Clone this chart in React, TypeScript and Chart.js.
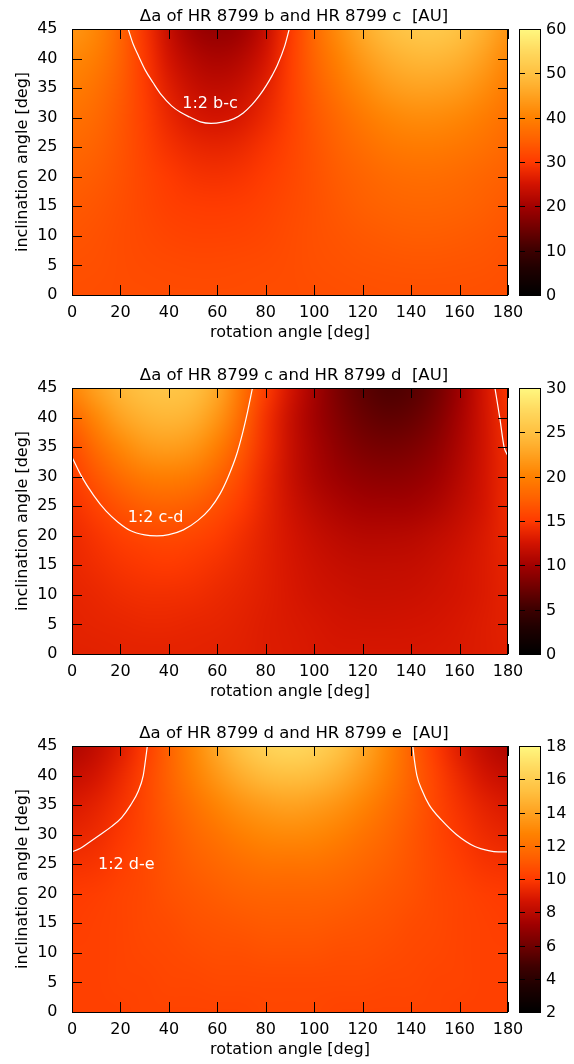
import React, { useEffect, useRef } from "react";
import { Chart, registerables } from "chart.js";

Chart.register(...registerables);

// Grid of the simulated maps: rotation angle (columns) x inclination angle (rows)
const rotationAngles = [0, 10, 20, 30, 40, 50, 60, 70, 80, 90, 100, 110, 120, 130, 140, 150, 160, 170, 180];
const inclinationAngles = [0, 5, 10, 15, 20, 25, 30, 35, 40, 45];

const rotationTicks = [0, 20, 40, 60, 80, 100, 120, 140, 160, 180];
const inclinationTicks = [0, 5, 10, 15, 20, 25, 30, 35, 40, 45];

// Δa between HR 8799 b and c [AU]; one row per inclination angle (0..45)
const deltaBC = [
  [32.6, 32.5, 32.4, 32.3, 32.2, 32.2, 32.2, 32.2, 32.3, 32.4, 32.5, 32.6, 32.7, 32.8, 32.8, 32.8, 32.8, 32.7, 32.6],
  [32.9, 32.7, 32.4, 32.1, 31.9, 31.8, 31.8, 31.9, 32.1, 32.4, 32.7, 33.0, 33.2, 33.4, 33.5, 33.5, 33.4, 33.2, 32.9],
  [33.4, 33.0, 32.4, 31.8, 31.3, 31.0, 31.0, 31.2, 31.6, 32.2, 32.8, 33.4, 33.9, 34.3, 34.5, 34.5, 34.3, 33.9, 33.4],
  [34.0, 33.5, 32.6, 31.6, 30.7, 30.2, 30.1, 30.4, 31.0, 31.9, 32.9, 33.9, 34.8, 35.4, 35.7, 35.7, 35.4, 34.8, 34.0],
  [35.0, 34.3, 33.0, 31.4, 30.0, 29.1, 28.9, 29.3, 30.3, 31.6, 33.0, 34.4, 35.6, 36.5, 37.0, 37.0, 36.5, 35.8, 35.0],
  [36.2, 35.3, 33.4, 31.0, 28.9, 27.6, 27.2, 27.8, 29.3, 31.2, 33.3, 35.3, 37.0, 38.3, 38.9, 39.0, 38.4, 37.4, 36.2],
  [37.5, 36.3, 33.8, 30.6, 27.6, 25.7, 25.0, 25.8, 27.9, 30.7, 33.7, 36.4, 38.8, 40.6, 41.5, 41.6, 40.8, 39.3, 37.5],
  [39.2, 37.6, 34.4, 30.2, 26.4, 23.9, 23.0, 24.0, 26.7, 30.5, 34.6, 38.2, 41.3, 43.6, 44.8, 44.9, 43.9, 41.8, 39.2],
  [41.0, 39.2, 35.2, 29.8, 25.0, 22.0, 20.8, 21.9, 25.2, 30.2, 35.5, 40.0, 43.8, 46.6, 48.2, 48.4, 47.2, 44.5, 41.0],
  [43.0, 40.8, 35.8, 29.2, 23.6, 19.8, 18.5, 19.7, 23.6, 29.8, 36.4, 41.8, 46.2, 49.5, 51.3, 51.6, 50.2, 47.0, 43.0],
];

// Δa between HR 8799 c and d [AU]
const deltaCD = [
  [13.4, 13.4, 13.5, 13.5, 13.5, 13.5, 13.4, 13.3, 13.1, 13.0, 12.8, 12.7, 12.7, 12.7, 12.7, 12.8, 12.9, 13.1, 13.3],
  [13.5, 13.6, 13.7, 13.8, 13.8, 13.7, 13.6, 13.4, 13.1, 12.9, 12.7, 12.5, 12.4, 12.4, 12.5, 12.6, 12.8, 13.1, 13.4],
  [13.6, 13.8, 14.1, 14.3, 14.3, 14.2, 13.9, 13.6, 13.2, 12.8, 12.4, 12.2, 12.0, 12.0, 12.1, 12.3, 12.6, 13.0, 13.5],
  [13.8, 14.2, 14.6, 14.9, 15.0, 14.8, 14.4, 13.9, 13.3, 12.7, 12.2, 11.8, 11.6, 11.6, 11.7, 12.0, 12.5, 13.0, 13.6],
  [14.0, 14.6, 15.3, 15.8, 16.0, 15.7, 15.1, 14.3, 13.4, 12.6, 11.8, 11.3, 11.0, 11.0, 11.1, 11.5, 12.1, 12.9, 13.8],
  [14.5, 15.5, 16.6, 17.4, 17.6, 17.2, 16.3, 15.0, 13.6, 12.3, 11.2, 10.5, 10.1, 10.0, 10.1, 10.6, 11.5, 12.6, 14.0],
  [15.2, 16.8, 18.4, 19.5, 19.8, 19.3, 17.9, 15.9, 13.8, 12.0, 10.6, 9.7, 9.1, 8.9, 9.1, 9.8, 11.0, 12.5, 14.0],
  [16.2, 18.5, 20.5, 21.8, 22.2, 21.6, 19.8, 17.0, 14.2, 12.0, 10.3, 9.0, 8.1, 7.8, 8.1, 9.0, 10.6, 12.4, 14.2],
  [18.0, 20.5, 22.6, 23.8, 24.2, 23.6, 21.6, 18.2, 14.4, 12.0, 10.0, 8.4, 7.2, 6.7, 7.0, 8.2, 10.2, 12.4, 14.4],
  [20.5, 22.5, 24.2, 25.2, 25.5, 25.0, 23.0, 19.0, 15.2, 12.6, 10.2, 8.0, 6.6, 5.8, 6.2, 7.5, 9.8, 12.5, 14.8],
];

// Δa between HR 8799 d and e [AU]
const deltaDE = [
  [10.2, 10.2, 10.2, 10.3, 10.3, 10.3, 10.3, 10.3, 10.4, 10.4, 10.4, 10.3, 10.3, 10.3, 10.3, 10.3, 10.2, 10.2, 10.2],
  [10.2, 10.2, 10.3, 10.3, 10.4, 10.4, 10.5, 10.5, 10.5, 10.5, 10.5, 10.5, 10.5, 10.4, 10.4, 10.3, 10.3, 10.2, 10.2],
  [10.2, 10.2, 10.3, 10.4, 10.5, 10.6, 10.7, 10.7, 10.8, 10.8, 10.8, 10.7, 10.7, 10.6, 10.5, 10.4, 10.3, 10.2, 10.2],
  [10.1, 10.2, 10.3, 10.5, 10.6, 10.8, 10.9, 11.0, 11.1, 11.1, 11.1, 11.0, 10.9, 10.8, 10.6, 10.5, 10.3, 10.2, 10.1],
  [10.0, 10.1, 10.3, 10.5, 10.8, 11.0, 11.2, 11.4, 11.5, 11.5, 11.5, 11.4, 11.2, 11.0, 10.8, 10.5, 10.3, 10.1, 10.0],
  [9.7, 9.8, 10.1, 10.5, 10.9, 11.3, 11.6, 11.9, 12.1, 12.1, 12.1, 11.9, 11.6, 11.3, 10.9, 10.5, 10.1, 9.8, 9.7],
  [9.3, 9.5, 9.9, 10.4, 11.0, 11.6, 12.1, 12.6, 12.9, 13.0, 12.9, 12.6, 12.1, 11.6, 11.0, 10.4, 9.9, 9.5, 9.3],
  [8.9, 9.2, 9.7, 10.4, 11.2, 12.0, 12.8, 13.4, 13.8, 14.0, 13.8, 13.4, 12.8, 12.0, 11.2, 10.4, 9.7, 9.2, 8.9],
  [8.3, 8.7, 9.4, 10.3, 11.4, 12.6, 13.6, 14.5, 15.1, 15.3, 15.1, 14.5, 13.6, 12.6, 11.4, 10.3, 9.4, 8.7, 8.3],
  [7.7, 8.2, 9.0, 10.0, 11.4, 12.9, 14.3, 15.5, 16.3, 16.6, 16.3, 15.5, 14.3, 12.9, 11.4, 10.0, 9.0, 8.2, 7.7],
];

// 1:2 mean-motion resonance curves (rotation, inclination)
const resonanceBC = [
  { x: 23.2, y: 45 }, { x: 25.2, y: 42.5 }, { x: 27.5, y: 40.4 }, { x: 30.3, y: 38 }, { x: 33.5, y: 35.9 },
  { x: 37, y: 33.8 }, { x: 41.1, y: 32 }, { x: 44.8, y: 30.9 }, { x: 48.6, y: 30.1 }, { x: 53, y: 29.3 },
  { x: 57.4, y: 29.05 }, { x: 62, y: 29.25 }, { x: 66.7, y: 29.8 }, { x: 70.7, y: 30.8 }, { x: 74.3, y: 32.2 },
  { x: 77.5, y: 33.8 }, { x: 80.3, y: 35.5 }, { x: 82.7, y: 37.2 }, { x: 84.8, y: 38.9 }, { x: 87.8, y: 42.1 },
  { x: 89.7, y: 45 },
];
const resonanceCD = [
  { x: 0, y: 33.3 }, { x: 4, y: 30 }, { x: 9, y: 26.8 }, { x: 14, y: 24.2 }, { x: 19, y: 22.3 },
  { x: 24, y: 20.9 }, { x: 30, y: 20.15 }, { x: 35, y: 20 }, { x: 40, y: 20.2 }, { x: 46, y: 21 },
  { x: 52, y: 22.6 }, { x: 57, y: 24.6 }, { x: 61, y: 27 }, { x: 64.5, y: 30 }, { x: 68, y: 33.8 },
  { x: 70.5, y: 37.5 }, { x: 72.5, y: 41 }, { x: 74.5, y: 45 },
];
const resonanceCDWrap = [
  { x: 174.6, y: 45 }, { x: 176.6, y: 40 }, { x: 178.4, y: 35 }, { x: 180, y: 33.5 },
];
const resonanceDE = [
  { x: 0, y: 27.1 }, { x: 3.5, y: 27.7 }, { x: 6.7, y: 28.6 }, { x: 11.6, y: 30 }, { x: 16.4, y: 31.4 },
  { x: 20.5, y: 32.9 }, { x: 24.2, y: 35 }, { x: 27.4, y: 37.4 }, { x: 29.4, y: 40 }, { x: 30.3, y: 42.5 },
  { x: 31.1, y: 45 },
];
const resonanceDEWrap = [
  { x: 140.7, y: 45 }, { x: 141.4, y: 42.5 }, { x: 142.4, y: 40 }, { x: 144.5, y: 37.5 }, { x: 147.5, y: 35 },
  { x: 152.5, y: 32.5 }, { x: 158.8, y: 30 }, { x: 166.3, y: 28 }, { x: 172, y: 27.3 }, { x: 176, y: 27.1 },
  { x: 180, y: 27.1 },
];

const colorbarTicksBC = [0, 10, 20, 30, 40, 50, 60];
const colorbarTicksCD = [0, 5, 10, 15, 20, 25, 30];
const colorbarTicksDE = [2, 4, 6, 8, 10, 12, 14, 16, 18];

const FONT = "'DejaVu Sans', Verdana, sans-serif";

// black → dark red → red → orange → yellow
const paletteStops: number[][] = [
  [0.0, 0, 0, 0],
  [0.1, 32, 0, 0],
  [0.17, 62, 0, 0],
  [0.25, 112, 0, 0],
  [0.33, 160, 0, 0],
  [0.42, 212, 20, 0],
  [0.5, 255, 58, 0],
  [0.58, 255, 95, 0],
  [0.67, 255, 130, 0],
  [0.75, 255, 162, 32],
  [0.83, 255, 192, 64],
  [0.92, 255, 218, 96],
  [1.0, 255, 248, 128],
];

function paletteColor(f: number): number[] {
  const t = Math.max(0, Math.min(1, f));
  for (let i = 1; i < paletteStops.length; i++) {
    const a = paletteStops[i - 1];
    const b = paletteStops[i];
    if (t <= b[0]) {
      const u = (t - a[0]) / (b[0] - a[0]);
      return [a[1] + (b[1] - a[1]) * u, a[2] + (b[2] - a[2]) * u, a[3] + (b[3] - a[3]) * u];
    }
  }
  const l = paletteStops[paletteStops.length - 1];
  return [l[1], l[2], l[3]];
}

interface PanelSpec {
  title: string;
  values: number[][];
  cbMin: number;
  cbMax: number;
  cbTicks: number[];
  curves: { x: number; y: number }[][];
  label: string;
  labelAt: { x: number; y: number };
}

const PLOT_TOP = 29;
const PLOT_BOTTOM = 295;

const panels: { spec: PanelSpec; top: number; height: number }[] = [
  {
    top: 0,
    height: 359,
    spec: {
      title: "Δa of HR 8799 b and HR 8799 c  [AU]",
      values: deltaBC,
      cbMin: 0,
      cbMax: 60,
      cbTicks: colorbarTicksBC,
      curves: [resonanceBC],
      label: "1:2 b-c",
      labelAt: { x: 57, y: 32.3 },
    },
  },
  {
    top: 359,
    height: 358,
    spec: {
      title: "Δa of HR 8799 c and HR 8799 d  [AU]",
      values: deltaCD,
      cbMin: 0,
      cbMax: 30,
      cbTicks: colorbarTicksCD,
      curves: [resonanceCD, resonanceCDWrap],
      label: "1:2 c-d",
      labelAt: { x: 34.5, y: 23 },
    },
  },
  {
    top: 717,
    height: 347,
    spec: {
      title: "Δa of HR 8799 d and HR 8799 e  [AU]",
      values: deltaDE,
      cbMin: 2,
      cbMax: 18,
      cbTicks: colorbarTicksDE,
      curves: [resonanceDE, resonanceDEWrap],
      label: "1:2 d-e",
      labelAt: { x: 22.4, y: 24.9 },
    },
  },
];

function buildConfig(spec: PanelSpec, height: number): any {
  const heatmap = {
    id: "heatmap",
    beforeDatasetsDraw(chart: any) {
      const { ctx, chartArea, scales } = chart;
      const nx = rotationAngles.length;
      const ny = inclinationAngles.length;
      const off = document.createElement("canvas");
      off.width = nx;
      off.height = ny;
      const octx = off.getContext("2d")!;
      const img = octx.createImageData(nx, ny);
      for (let r = 0; r < ny; r++) {
        const row = spec.values[ny - 1 - r];
        for (let c = 0; c < nx; c++) {
          const col = paletteColor((row[c] - spec.cbMin) / (spec.cbMax - spec.cbMin));
          const k = (r * nx + c) * 4;
          img.data[k] = Math.round(col[0]);
          img.data[k + 1] = Math.round(col[1]);
          img.data[k + 2] = Math.round(col[2]);
          img.data[k + 3] = 255;
        }
      }
      octx.putImageData(img, 0, 0);
      const dx = rotationAngles[1] - rotationAngles[0];
      const dy = inclinationAngles[1] - inclinationAngles[0];
      const x0 = scales.x.getPixelForValue(rotationAngles[0] - dx / 2);
      const x1 = scales.x.getPixelForValue(rotationAngles[nx - 1] + dx / 2);
      const y0 = scales.y.getPixelForValue(inclinationAngles[ny - 1] + dy / 2);
      const y1 = scales.y.getPixelForValue(inclinationAngles[0] - dy / 2);
      ctx.save();
      ctx.beginPath();
      ctx.rect(chartArea.left, chartArea.top, chartArea.right - chartArea.left, chartArea.bottom - chartArea.top);
      ctx.clip();
      ctx.imageSmoothingEnabled = true;
      ctx.imageSmoothingQuality = "high";
      ctx.drawImage(off, x0, y0, x1 - x0, y1 - y0);
      ctx.restore();
    },
  };

  const frame = {
    id: "frame",
    afterDatasetsDraw(chart: any) {
      const { ctx, chartArea, scales } = chart;
      const { left, right, top, bottom } = chartArea;
      const L = 10;
      ctx.save();
      // resonance label
      ctx.fillStyle = "#fff";
      ctx.font = `16px ${FONT}`;
      ctx.textAlign = "center";
      ctx.textBaseline = "middle";
      ctx.fillText(spec.label, scales.x.getPixelForValue(spec.labelAt.x), scales.y.getPixelForValue(spec.labelAt.y));
      // inward ticks on all four sides
      ctx.strokeStyle = "#000";
      ctx.lineWidth = 1;
      ctx.beginPath();
      for (const t of scales.x.ticks) {
        const px = Math.round(scales.x.getPixelForValue(t.value)) + 0.5;
        ctx.moveTo(px, bottom);
        ctx.lineTo(px, bottom - L);
        ctx.moveTo(px, top);
        ctx.lineTo(px, top + L);
      }
      for (const t of scales.y.ticks) {
        const py = Math.round(scales.y.getPixelForValue(t.value)) + 0.5;
        ctx.moveTo(left, py);
        ctx.lineTo(left + L, py);
        ctx.moveTo(right, py);
        ctx.lineTo(right - L, py);
      }
      ctx.stroke();
      ctx.strokeRect(left + 0.5, top + 0.5, right - left - 1, bottom - top);
      ctx.restore();
    },
  };

  const header = {
    id: "header",
    afterDraw(chart: any) {
      const { ctx, chartArea } = chart;
      ctx.save();
      ctx.fillStyle = "#000";
      ctx.font = `16.5px ${FONT}`;
      ctx.textAlign = "center";
      ctx.textBaseline = "alphabetic";
      ctx.fillText(spec.title, (chartArea.left + chartArea.right) / 2 + 4, chartArea.top - 8.5);
      ctx.restore();
    },
  };

  const colorbar = {
    id: "colorbar",
    afterDraw(chart: any) {
      const { ctx, chartArea, scales } = chart;
      const cb = scales.cbar;
      const x = chartArea.right + 11;
      const w = 22;
      const top = cb.getPixelForValue(spec.cbMax);
      const bottom = cb.getPixelForValue(spec.cbMin);
      ctx.save();
      for (let py = Math.floor(top); py < Math.ceil(bottom); py++) {
        const v = cb.getValueForPixel(py + 0.5);
        const col = paletteColor((v - spec.cbMin) / (spec.cbMax - spec.cbMin));
        ctx.fillStyle = `rgb(${Math.round(col[0])},${Math.round(col[1])},${Math.round(col[2])})`;
        ctx.fillRect(x, py, w, 1);
      }
      ctx.strokeStyle = "#000";
      ctx.lineWidth = 1;
      ctx.beginPath();
      for (const v of spec.cbTicks) {
        const py = Math.round(cb.getPixelForValue(v)) + 0.5;
        ctx.moveTo(x, py);
        ctx.lineTo(x + 6, py);
        ctx.moveTo(x + w, py);
        ctx.lineTo(x + w - 6, py);
      }
      ctx.stroke();
      ctx.strokeRect(x + 0.5, top + 0.5, w - 1, bottom - top);
      ctx.fillStyle = "#000";
      ctx.font = `16px ${FONT}`;
      ctx.textAlign = "left";
      ctx.textBaseline = "middle";
      for (const v of spec.cbTicks) {
        ctx.fillText(String(v), x + w + 5, cb.getPixelForValue(v) + 1);
      }
      ctx.restore();
    },
  };

  return {
    type: "scatter",
    data: {
      datasets: spec.curves.map((c) => ({
        data: c,
        showLine: true,
        borderColor: "#ffffff",
        borderWidth: 1.2,
        pointRadius: 0,
        pointHoverRadius: 0,
        cubicInterpolationMode: "monotone",
        fill: false,
        clip: 0,
      })),
    },
    plugins: [heatmap, frame, header, colorbar],
    options: {
      responsive: false,
      animation: false,
      devicePixelRatio: 1,
      events: [],
      layout: { padding: { left: 0, right: 66, top: PLOT_TOP, bottom: 0 } },
      plugins: {
        legend: { display: false },
        tooltip: { enabled: false },
        title: { display: false },
      },
      scales: {
        x: {
          type: "linear",
          position: "bottom",
          min: 0,
          max: 180,
          grid: { display: false, drawTicks: false },
          border: { display: false },
          afterBuildTicks: (s: any) => {
            s.ticks = rotationTicks.map((v) => ({ value: v }));
          },
          ticks: { color: "#000", padding: 8.2, maxRotation: 0, font: { family: FONT, size: 16 } },
          title: {
            display: true,
            text: "rotation angle [deg]",
            color: "#000",
            font: { family: FONT, size: 16 },
            padding: { top: 0, bottom: height - 9.6 - 332.5 },
          },
          afterFit: (s: any) => {
            s.height = height - PLOT_BOTTOM;
          },
        },
        y: {
          type: "linear",
          position: "left",
          min: 0,
          max: 45,
          grid: { display: false, drawTicks: false },
          border: { display: false },
          afterBuildTicks: (s: any) => {
            s.ticks = inclinationTicks.map((v) => ({ value: v }));
          },
          ticks: { color: "#000", padding: 14.5, font: { family: FONT, size: 16 } },
          title: {
            display: true,
            text: "inclination angle [deg]",
            color: "#000",
            font: { family: FONT, size: 16 },
            padding: { top: 12.9, bottom: 0 },
          },
          afterFit: (s: any) => {
            s.width = 72;
          },
        },
        cbar: {
          type: "linear",
          position: "right",
          display: false,
          min: spec.cbMin,
          max: spec.cbMax,
        },
      },
    },
  };
}

function Panel({ spec, top, height }: { spec: PanelSpec; top: number; height: number }) {
  const ref = useRef<HTMLCanvasElement>(null);
  useEffect(() => {
    const chart = new Chart(ref.current as HTMLCanvasElement, buildConfig(spec, height));
    return () => chart.destroy();
  }, [spec, height]);
  return (
    <canvas
      ref={ref}
      width={574}
      height={height}
      style={{ position: "absolute", left: 0, top, width: 574, height, display: "block" }}
    />
  );
}

export default function App() {
  return (
    <div style={{ position: "absolute", left: 0, top: 0, width: 574, height: 1064, overflow: "hidden", background: "#fff" }}>
      {panels.map((p, i) => (
        <Panel key={i} spec={p.spec} top={p.top} height={p.height} />
      ))}
    </div>
  );
}
